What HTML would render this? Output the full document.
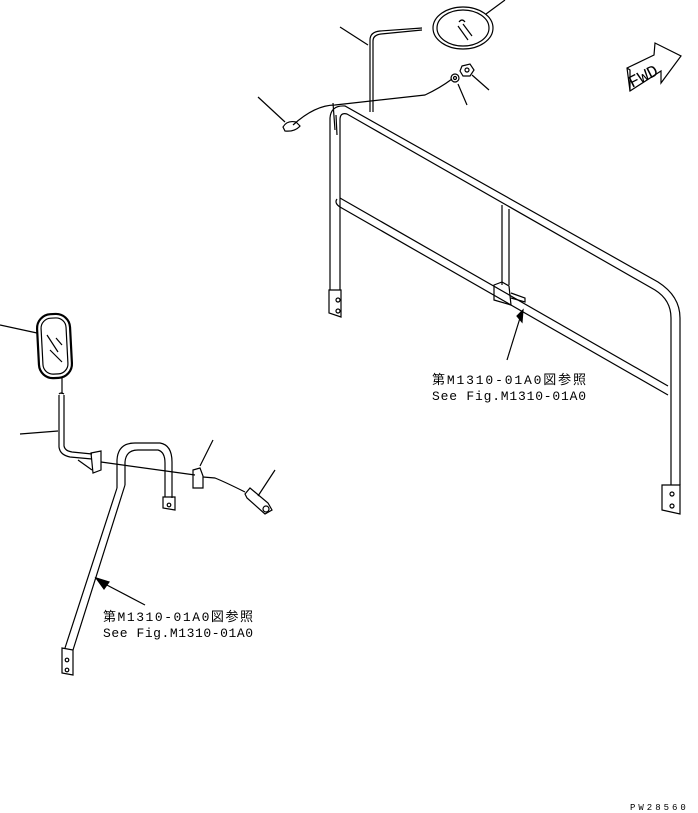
<!DOCTYPE html>
<html><head><meta charset="utf-8"><style>
html,body{margin:0;padding:0;background:#fff;}
svg{display:block;}
text{font-family:"Liberation Mono","Noto Sans CJK JP",monospace;fill:#000;}
</style></head><body>
<svg width="698" height="813" viewBox="0 0 698 813" xmlns="http://www.w3.org/2000/svg" fill="none" stroke="#000" stroke-width="1.2">
<!-- top right rail -->
<path d="M330,290 L330,118 Q331,105 345,106 L658,282 Q680,296 680,318 L680,485"/>
<path d="M340,290 L340,120 Q340,112 347,114 L655,290 Q671,300 671,318 L671,485"/>
<path d="M329,290 L341,290 L341,317 L329,313 Z"/>
<circle cx="338" cy="300" r="2"/><circle cx="338" cy="311" r="2"/>
<path d="M662,485 L680,485 L680,514 L662,510 Z"/>
<circle cx="672" cy="494" r="2"/><circle cx="672" cy="506" r="2"/>
<!-- middle rail -->
<path d="M340,198 L668,386"/>
<path d="M340,207 L668,395"/>
<path d="M337,199 Q334,203 340,207"/>
<!-- centre post -->
<path d="M502,205 L502,285 M509,209 L509,285"/>
<path d="M494,285 L502,282 L509,286 L511,305 L494,300 Z"/>
<path d="M511,293 L525,298 L525,302 L511,298"/>
<!-- leader / label right -->
<path d="M507,360 L520,318"/>
<path d="M517,316 L523,310 L522,322 Z" fill="#000"/>
<text x="432" y="384" font-size="13" stroke="none" textLength="154">第M1310-01A0図参照</text>
<text x="432" y="400" font-size="13" stroke="none" textLength="154">See Fig.M1310-01A0</text>
<!-- rod -->
<path d="M370,112 L370,40 Q370,32 380,31 L422,28"/>
<path d="M373,112 L373,41 Q373,35 381,34 L422,30"/>
<path d="M340,27 L368,45"/>
<!-- round mirror -->
<ellipse cx="463" cy="28" rx="30" ry="21"/>
<ellipse cx="463" cy="28" rx="26" ry="18"/>
<path d="M458,26 L468,40 M463,24 L472,36 M459,22 Q462,18 465,22"/>
<path d="M486,14 L505,0"/>
<!-- washer & nut -->
<circle cx="455" cy="78" r="4"/><circle cx="455" cy="78" r="1.5"/>
<path d="M462,66 L470,64 L474,70 L470,76 L463,76 L460,71 Z"/><circle cx="467" cy="70" r="2"/>
<path d="M458,84 L467,105 M472,75 L489,90"/>
<!-- wire -->
<path d="M293,125 Q315,105 335,105 L425,95 Q440,88 452,79"/>
<path d="M333,103 L335,130 M336,115 L337,135"/>
<path d="M283,127 Q287,120 296,122 L300,126 Q295,132 285,131 Z"/>
<path d="M258,97 L285,122"/>
<!-- FWD -->
<path d="M627,68 L654,55 L655,43 L681,56 L661,83 L661,71 L630,91 Z"/>
<path d="M627,68 L630,70 L630,91"/>
<text x="632" y="88" font-size="17" stroke="none" transform="rotate(-27 632 88)">FWD</text>
<!-- left mirror -->
<rect x="38" y="314" width="33" height="64" rx="14" stroke-width="2.2" transform="rotate(-3 55 346)"/>
<rect x="42" y="318" width="25" height="56" rx="10" transform="rotate(-3 55 346)"/>
<path d="M47,335 L58,352 M50,350 L62,362 M56,338 L62,345"/>
<path d="M0,325 L37,333"/>
<path d="M62,378 L62,394"/>
<path d="M59,395 L59,447 Q60,455 70,457 L92,459"/>
<path d="M64,395 L64,446 Q65,451 72,452 L92,454"/>
<path d="M59,394 Q61,392 64,394"/>
<path d="M20,434 L58,431"/>
<path d="M78,460 L92,470"/>
<path d="M91,453 L101,451 L101,470 L93,473 Z"/>
<!-- wire left -->
<path d="M101,462 L195,475 M203,477 L215,478 Q225,482 245,492"/>
<!-- U handrail -->
<path d="M117,488 L117,460 Q118,443 135,443 L160,443 Q172,445 172,462 L172,498"/>
<path d="M125,485 L125,462 Q126,450 138,450 L158,450 Q165,452 165,463 L165,497"/>
<path d="M163,497 L175,497 L175,510 L163,508 Z"/><circle cx="169" cy="505" r="1.8"/>
<path d="M117,488 L65,648 M125,485 L73,650"/>
<path d="M62,648 L73,650 L73,675 L62,673 Z"/><circle cx="67" cy="660" r="1.8"/><circle cx="67" cy="670" r="1.8"/>
<!-- small clip -->
<path d="M193,470 L200,468 L203,476 L203,488 L193,488 Z"/>
<path d="M213,440 L200,466"/>
<!-- plug -->
<path d="M245,494 L250,488 L268,503 L272,510 L265,514 L247,498 Z"/>
<circle cx="266" cy="509" r="3"/>
<path d="M275,470 L258,496"/>
<!-- left label -->
<path d="M145,605 L103,583"/>
<path d="M96,578 L109,582 L104,589 Z" fill="#000"/>
<text x="103" y="621" font-size="13" stroke="none" textLength="150">第M1310-01A0図参照</text>
<text x="103" y="637" font-size="13" stroke="none" textLength="150">See Fig.M1310-01A0</text>
<text x="630" y="810" font-size="9" stroke="none" letter-spacing="3">PW28560</text>
</svg>
</body></html>
